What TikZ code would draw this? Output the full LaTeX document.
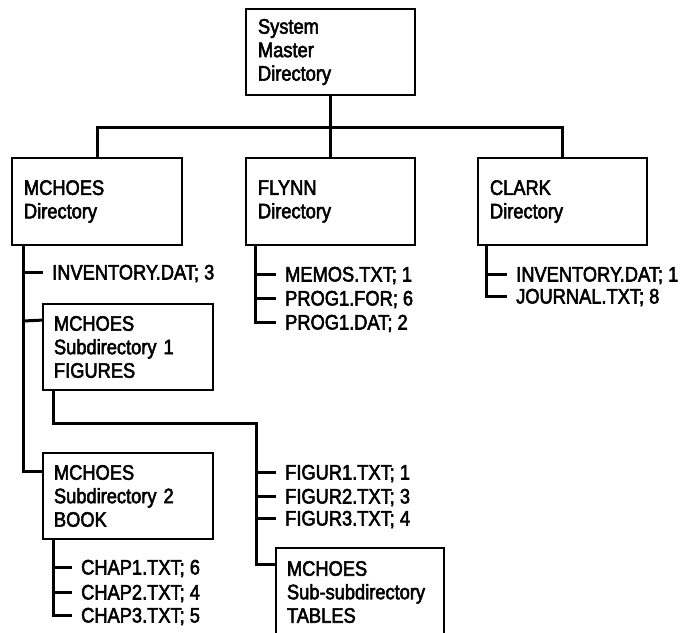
\documentclass[tikz,border=0pt]{standalone}
\usepackage{fontspec}
\setmainfont{Liberation Sans}[FakeStretch=0.87,FakeBold=2.5]
\newcommand\diafont{\fontsize{21}{23.5}\selectfont}
\begin{document}
\begin{tikzpicture}[x=1pt,y=-1pt,
  box/.style={draw, line width=1.8pt, inner xsep=12pt, inner ysep=0pt, align=left, font=\diafont, text width=146pt, minimum height=87pt},
  file/.style={anchor=west, inner xsep=9pt, inner ysep=0pt, font=\diafont, text height=15pt, text depth=0pt},
  conn/.style={line width=3pt, line join=miter}]
\useasboundingbox (0,0) rectangle (680,632);
\clip (0,0) rectangle (680,632);
% boxes
\node[box, text width=145pt, minimum height=86pt] (top) at (330.5,52) {System\\Master\\Directory};
\node[box] (mchoes) at (97,201.5) {MCHOES\\Directory};
\node[box, text width=145pt] (flynn) at (330.5,201.5) {FLYNN\\Directory};
\node[box, text width=145pt] (clark) at (562.5,201.5) {CLARK\\Directory};
\node[box, inner xsep=11pt, text width=148pt, minimum height=86pt] (sub1) at (128,347) {MCHOES\\Subdirectory 1\\FIGURES};
\node[box, inner xsep=11pt, text width=148pt, minimum height=86pt] (sub2) at (128,496) {MCHOES\\Subdirectory 2\\BOOK};
\node[box, inner xsep=11pt, text width=146pt, minimum height=88pt] (subsub) at (360,592) {MCHOES\\Sub-subdirectory\\TABLES};
% files
\node[file] (inv3) at (43,272) {INVENTORY.DAT; 3};
\node[file] (memos) at (276,274) {MEMOS.TXT; 1};
\node[file] (prog1for) at (276,298) {PROG1.FOR; 6};
\node[file] (prog1dat) at (276,322) {PROG1.DAT; 2};
\node[file] (cinv) at (507,274) {INVENTORY.DAT; 1};
\node[file] (journal) at (507,296) {JOURNAL.TXT; 8};
\node[file] (figur1) at (276,472) {FIGUR1.TXT; 1};
\node[file] (figur2) at (276,496) {FIGUR2.TXT; 3};
\node[file] (figur3) at (276,518) {FIGUR3.TXT; 4};
\node[file] (chap1) at (72,567) {CHAP1.TXT; 6};
\node[file] (chap2) at (72,592) {CHAP2.TXT; 4};
\node[file] (chap3) at (72,615) {CHAP3.TXT; 5};
% coordinates
\coordinate (bar) at (330.5,127);
\coordinate (mt) at ([xshift=12pt]mchoes.south west);
\coordinate (ft) at ([xshift=10.5pt]flynn.south west);
\coordinate (ct) at ([xshift=9.5pt]clark.south west);
\coordinate (s1t) at ([xshift=11pt]sub1.south west);
\coordinate (s2t) at ([xshift=11pt]sub2.south west);
\coordinate (c1) at (256.5,423);
% connectors
\draw[conn] (top.south) -- (bar);
\draw[conn] (mchoes.north) |- (bar) -| (clark.north);
\draw[conn] (bar) -- (flynn.north);
% MCHOES
\draw[conn] (mt) |- ([yshift=-19pt]sub2.north west);
\draw[conn] (mt |- inv3.west) -- (inv3.west);
\draw[conn] (mt |- 0,321) -- ([yshift=-17pt]sub1.north west);
% FLYNN
\draw[conn] (ft) |- (prog1dat.west);
\draw[conn] (ft |- memos.west) -- (memos.west);
\draw[conn] (ft |- prog1for.west) -- (prog1for.west);
% CLARK
\draw[conn] (ct) |- (journal.west);
\draw[conn] (ct |- cinv.west) -- (cinv.west);
% Sub1
\draw[conn] (s1t) |- (c1) |- ([yshift=-17pt]subsub.north west);
\draw[conn] (c1 |- figur1.west) -- (figur1.west);
\draw[conn] (c1 |- figur2.west) -- (figur2.west);
\draw[conn] (c1 |- figur3.west) -- (figur3.west);
% Sub2
\draw[conn] (s2t) |- (chap3.west);
\draw[conn] (s2t |- chap1.west) -- (chap1.west);
\draw[conn] (s2t |- chap2.west) -- (chap2.west);
\end{tikzpicture}
\end{document}
